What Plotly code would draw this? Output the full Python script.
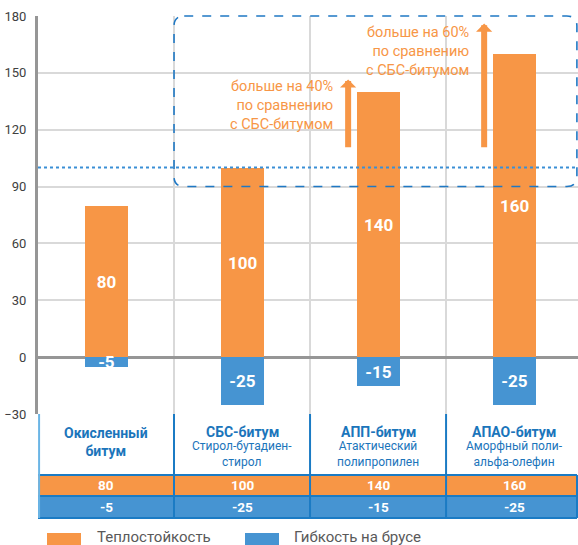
import plotly.graph_objects as go

# ---------------- data ----------------
categories = ["Окисленный<br>битум", "СБС-битум", "АПП-битум", "АПАО-битум"]
subtitles = ["", "Стирол-бутадиен-<br>стирол", "Атактический<br>полипропилен", "Аморфный поли-<br>альфа-олефин"]
heat_resistance = [80, 100, 140, 160]
flexibility = [-5, -25, -15, -25]
series_names = ["Теплостойкость", "Гибкость на брусе"]
y_ticks = [-30, 0, 30, 60, 90, 120, 150, 180]
reference_level = 100
note_texts = ["больше на 40%<br>по сравнению<br>с СБС-битумом",
              "больше на 60%<br>по сравнению<br>с СБС-битумом"]

# ---------------- style ----------------
ORANGE = "#F79646"
BLUE = "#4694D2"
DARK_BLUE = "#1B7BC4"
TEXT_BLUE = "#1B75BB"
LIGHT_BLUE = "#6BB5E5"
GRID = "#D9D9D9"
AXIS = "#969696"
FONT = "Roboto"

W, H = 578, 545
ML, MT, MB = 38, 16, 131
PW = W - ML
PH = H - MT - MB
X_RANGE = [-0.5, 3.47]
Y_RANGE = [-30, 180]

def py(p):  # pixel row -> paper y
    return (H - MB - p) / PH

def px(p):  # pixel col -> paper x
    return (p - ML) / PW

def vy(v):  # data value -> paper y
    return (v - Y_RANGE[0]) / (Y_RANGE[1] - Y_RANGE[0])

xs = list(range(len(categories)))
bar_w = 0.316

fig = go.Figure()
fig.add_trace(go.Bar(
    x=xs, y=heat_resistance, width=bar_w, name=series_names[0],
    marker=dict(color=ORANGE, line=dict(width=0)),
    text=heat_resistance, textposition="inside", insidetextanchor="middle",
    textangle=0, constraintext="none",
    textfont=dict(color="white", size=17, family=FONT, weight="bold"),
    hoverinfo="skip", showlegend=False))
fig.add_trace(go.Bar(
    x=xs, y=flexibility, width=bar_w, name=series_names[1],
    marker=dict(color=BLUE, line=dict(width=0)),
    text=flexibility, textposition="inside", insidetextanchor="middle",
    textangle=0, constraintext="none",
    textfont=dict(color="white", size=17, family=FONT, weight="bold"),
    hoverinfo="skip", showlegend=False))

shapes = []
annotations = []

# reference dotted line at SBS level
shapes.append(dict(type="line", xref="paper", yref="y", x0=0, x1=1,
                   y0=reference_level, y1=reference_level,
                   line=dict(color="#3A8FD6", width=2, dash="dot")))

# dashed rounded highlight box (categories 1..3, values 90..180)
x0, x1 = 0.5, X_RANGE[1] - 0.008
y0, y1 = vy(90), vy(Y_RANGE[1])
rx, ry = 0.075, 10 / PH
path = (f"M{x0+rx},{y1} L{x1-rx},{y1} Q{x1},{y1} {x1},{y1-ry} "
        f"L{x1},{y0+ry} Q{x1},{y0} {x1-rx},{y0} L{x0+rx},{y0} "
        f"Q{x0},{y0} {x0},{y0+ry} L{x0},{y1-ry} Q{x0},{y1} {x0+rx},{y1} Z")
shapes.append(dict(type="path", xref="x", yref="paper", path=path,
                   line=dict(color="#1F78C4", width=1.6, dash="dash"),
                   fillcolor="rgba(0,0,0,0)", layer="above"))

# ---------------- table below the chart ----------------
t_top, t_head, t_mid, t_bot = 414, 475, 496, 518
for i in xs:
    a, b = i - 0.5, min(i + 0.5, X_RANGE[1] - 0.005)
    shapes.append(dict(type="rect", xref="x", yref="paper", x0=a, x1=b,
                       y0=py(t_mid), y1=py(t_head), fillcolor=ORANGE,
                       line=dict(width=0), layer="above"))
    shapes.append(dict(type="rect", xref="x", yref="paper", x0=a, x1=b,
                       y0=py(t_bot), y1=py(t_mid), fillcolor=BLUE,
                       line=dict(width=0), layer="above"))
    annotations.append(dict(x=i, y=py((t_head + t_mid) / 2), xref="x", yref="paper",
                            text=str(heat_resistance[i]), showarrow=False,
                            xanchor="center", yanchor="middle",
                            font=dict(color="white", size=13.5, family=FONT, weight="bold")))
    annotations.append(dict(x=i, y=py((t_mid + t_bot) / 2), xref="x", yref="paper",
                            text=str(flexibility[i]), showarrow=False,
                            xanchor="center", yanchor="middle",
                            font=dict(color="white", size=13.5, family=FONT, weight="bold")))
    # header text
    if subtitles[i]:
        annotations.append(dict(x=i, y=py(432), xref="x", yref="paper",
                                text=categories[i], showarrow=False,
                                xanchor="center", yanchor="middle",
                                font=dict(color=TEXT_BLUE, size=14, family=FONT, weight="bold")))
        annotations.append(dict(x=i, y=py(454), xref="x", yref="paper",
                                text=subtitles[i], showarrow=False,
                                xanchor="center", yanchor="middle",
                                font=dict(color=TEXT_BLUE, size=12, family=FONT)))
    else:
        annotations.append(dict(x=i, y=py(442), xref="x", yref="paper",
                                text=categories[i], showarrow=False,
                                xanchor="center", yanchor="middle",
                                font=dict(color=TEXT_BLUE, size=14, family=FONT, weight="bold")))

# horizontal table lines
for p in (t_head, t_mid, t_bot):
    shapes.append(dict(type="line", xref="paper", yref="paper", x0=0, x1=px(577),
                       y0=py(p), y1=py(p), line=dict(color=DARK_BLUE, width=2), layer="above"))
# vertical table lines
shapes.append(dict(type="line", xref="paper", yref="paper", x0=0.002, x1=0.002,
                   y0=py(t_bot), y1=py(t_top), line=dict(color=LIGHT_BLUE, width=2), layer="above"))
for i in xs[1:]:
    shapes.append(dict(type="line", xref="x", yref="paper", x0=i - 0.5, x1=i - 0.5,
                       y0=py(t_bot), y1=py(t_top), line=dict(color=DARK_BLUE, width=2), layer="above"))
shapes.append(dict(type="line", xref="paper", yref="paper", x0=px(577), x1=px(577),
                   y0=py(t_bot), y1=py(t_head), line=dict(color=DARK_BLUE, width=2), layer="above"))

# ---------------- arrows with notes ----------------
arrow_x = [1.78, 2.78]
arrow_tip = [146.5, 176]
arrow_tail = 110
note_x = [1.684, 2.684]
note_y = [133, 161.5]
for k in range(2):
    annotations.append(dict(x=arrow_x[k], y=arrow_tip[k], ax=arrow_x[k], ay=arrow_tail,
                            xref="x", yref="y", axref="x", ayref="y", text="",
                            showarrow=True, arrowhead=1, arrowsize=0.45, arrowwidth=6,
                            arrowcolor=ORANGE, standoff=0))
    annotations.append(dict(x=note_x[k], y=note_y[k], xref="x", yref="y",
                            text=note_texts[k], showarrow=False, xanchor="right",
                            yanchor="middle", align="right",
                            font=dict(color=ORANGE, size=14.5, family=FONT)))

# ---------------- custom legend ----------------
leg_y = 537
for k, (color, sx, tx) in enumerate([(ORANGE, 47, 96), (BLUE, 245, 293)]):
    shapes.append(dict(type="rect", xref="paper", yref="paper",
                       x0=px(sx), x1=px(sx + 34), y0=py(545), y1=py(533),
                       fillcolor=color, line=dict(width=0)))
    annotations.append(dict(x=px(tx), y=py(leg_y), xref="paper", yref="paper",
                            text=series_names[k], showarrow=False, xanchor="left",
                            yanchor="middle", borderpad=0,
                            font=dict(color="#595959", size=15, family=FONT)))

fig.update_layout(
    width=W, height=H,
    margin=dict(l=ML, r=0, t=MT, b=MB, pad=0),
    paper_bgcolor="white", plot_bgcolor="white",
    barmode="relative", bargap=0,
    showlegend=False,
    shapes=shapes, annotations=annotations,
    font=dict(family=FONT),
    xaxis=dict(range=X_RANGE, tickvals=[0.5, 1.5, 2.5], showticklabels=False,
               showgrid=True, gridcolor=GRID, gridwidth=1.5, zeroline=False,
               ticks="", fixedrange=True),
    yaxis=dict(range=Y_RANGE, tickvals=y_ticks, showgrid=True, gridcolor=GRID,
               gridwidth=1.5, zeroline=True, zerolinecolor=AXIS, zerolinewidth=2.5,
               showline=True, linecolor=AXIS, linewidth=3, ticks="",
               ticklabelstandoff=6,
               tickfont=dict(size=13, color="#404040", family=FONT),
               fixedrange=True),
)

fig.write_html("out.html", config={"displayModeBar": False},
               post_script="document.body.style.margin='0';document.body.style.overflow='hidden';")
